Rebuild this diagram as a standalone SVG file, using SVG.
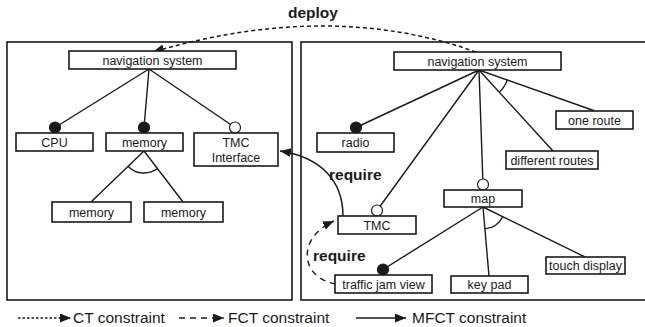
<svg xmlns="http://www.w3.org/2000/svg" width="645" height="327" viewBox="0 0 645 327">
  <style>
    .frame { fill: none; stroke: #1a1a1a; stroke-width: 1.6; }
    .box { fill: #fff; stroke: #1a1a1a; stroke-width: 1.6; }
    .lbl { font-family: "Liberation Sans", Arial, sans-serif; font-size: 12.5px; fill: #1a1a1a; text-anchor: middle; }
    .bold { font-family: "Liberation Sans", Arial, sans-serif; font-size: 15.5px; font-weight: bold; fill: #1a1a1a; }
    .legend { font-family: "Liberation Sans", Arial, sans-serif; font-size: 15.5px; fill: #1a1a1a; }
    .edge { fill: none; stroke: #1a1a1a; stroke-width: 1.4; }
    .mand { fill: #1a1a1a; stroke: #1a1a1a; stroke-width: 1.2; }
    .opt { fill: #fff; stroke: #1a1a1a; stroke-width: 1.2; }
    .ct { fill: none; stroke: #1a1a1a; stroke-width: 1.5; stroke-dasharray: 4 3; }
    .fct { fill: none; stroke: #1a1a1a; stroke-width: 1.4; stroke-dasharray: 6 5; }
    .mfct { fill: none; stroke: #1a1a1a; stroke-width: 1.5; }
  </style>
  <defs>
    <marker id="head" markerUnits="userSpaceOnUse" markerWidth="12" markerHeight="10" refX="11" refY="4.5" orient="auto">
      <path d="M0,0 L11,4.5 L0,9 Z" fill="#1a1a1a"/>
    </marker>
  </defs>

  <!-- platform frames -->
  <rect class="frame" x="7" y="42" width="285" height="258"/>
  <rect class="frame" x="301" y="42" width="346" height="258"/>

  <g id="connectors">
    <!-- left tree -->
    <line class="edge" x1="149" y1="69" x2="55" y2="127.5"/>
    <line class="edge" x1="149" y1="69" x2="144" y2="127.5"/>
    <line class="edge" x1="149" y1="69" x2="235" y2="127.5"/>
    <line class="edge" x1="144" y1="151" x2="91" y2="202"/>
    <line class="edge" x1="144" y1="151" x2="183" y2="202"/>
    <path class="edge" d="M128.3,166.4 A22,22 0 0 0 157.6,168.3"/>
    <circle class="mand" cx="55" cy="127.5" r="5.5"/>
    <circle class="mand" cx="144" cy="127.5" r="5.5"/>
    <circle class="opt" cx="235" cy="127.5" r="5.5"/>

    <!-- right tree -->
    <line class="edge" x1="479" y1="70" x2="356" y2="127.5"/>
    <line class="edge" x1="479" y1="70" x2="377" y2="210.5"/>
    <line class="edge" x1="479" y1="70" x2="483" y2="184.5"/>
    <line class="edge" x1="479" y1="70" x2="553" y2="151"/>
    <line class="edge" x1="479" y1="70" x2="595" y2="111"/>
    <path class="edge" d="M499.4,92 A30,30 0 0 0 507.4,79.6"/>
    <circle class="mand" cx="356" cy="127.5" r="5.5"/>
    <circle class="opt" cx="377" cy="210.5" r="5.5"/>
    <circle class="opt" cx="483" cy="184.5" r="5.5"/>

    <line class="edge" x1="483" y1="207" x2="383" y2="269.5"/>
    <line class="edge" x1="483" y1="207" x2="489" y2="276"/>
    <line class="edge" x1="483" y1="207" x2="585" y2="257"/>
    <path class="edge" d="M484.9,228.9 A22,22 0 0 0 502.8,216.5"/>
    <circle class="mand" cx="383" cy="269.5" r="5.5"/>

    <!-- cross-tree constraints -->
    <path class="ct" d="M476,52 Q330,0 153,52" marker-end="url(#head)"/>
    <path class="mfct" d="M343,216 C343,180 320,157 280,151" marker-end="url(#head)"/>
    <path class="fct" d="M336,284 C300,278 296,238 334,221" marker-end="url(#head)"/>
  </g>

  <text class="bold" x="288" y="18">deploy</text>
  <text class="bold" x="329" y="180">require</text>
  <text class="bold" x="313" y="261">require</text>

  <!-- left tree nodes -->
  <g id="nav-left">
    <rect class="box" x="69" y="51" width="167" height="18"/>
    <text class="lbl" x="152.5" y="64.5">navigation system</text>
  </g>
  <g id="cpu">
    <rect class="box" x="16" y="133" width="77" height="18"/>
    <text class="lbl" x="54.5" y="146.5">CPU</text>
  </g>
  <g id="memory">
    <rect class="box" x="106" y="133" width="77" height="18"/>
    <text class="lbl" x="144.5" y="146.5">memory</text>
  </g>
  <g id="tmc-interface">
    <rect class="box" x="194" y="133" width="84" height="33"/>
    <text class="lbl" x="236" y="147">TMC</text>
    <text class="lbl" x="236" y="162">Interface</text>
  </g>
  <g id="memory-a">
    <rect class="box" x="52" y="202" width="79" height="20"/>
    <text class="lbl" x="91.5" y="216.5">memory</text>
  </g>
  <g id="memory-b">
    <rect class="box" x="144" y="202" width="79" height="20"/>
    <text class="lbl" x="183.5" y="216.5">memory</text>
  </g>

  <!-- right tree nodes -->
  <g id="nav-right">
    <rect class="box" x="394" y="52" width="167" height="18"/>
    <text class="lbl" x="477.5" y="65.5">navigation system</text>
  </g>
  <g id="radio">
    <rect class="box" x="317" y="133" width="77" height="19"/>
    <text class="lbl" x="355.5" y="147">radio</text>
  </g>
  <g id="one-route">
    <rect class="box" x="556" y="111" width="77" height="18"/>
    <text class="lbl" x="594.5" y="124.5">one route</text>
  </g>
  <g id="different-routes">
    <rect class="box" x="506" y="151" width="92" height="18"/>
    <text class="lbl" x="552" y="164.5">different routes</text>
  </g>
  <g id="tmc">
    <rect class="box" x="338" y="216" width="78" height="18"/>
    <text class="lbl" x="377" y="229.5">TMC</text>
  </g>
  <g id="map">
    <rect class="box" x="444" y="190" width="78" height="17"/>
    <text class="lbl" x="483" y="203">map</text>
  </g>
  <g id="traffic-jam-view">
    <rect class="box" x="335" y="275" width="97" height="18"/>
    <text class="lbl" x="383.5" y="288.5">traffic jam view</text>
  </g>
  <g id="key-pad">
    <rect class="box" x="451" y="276" width="77" height="17"/>
    <text class="lbl" x="489.5" y="289">key pad</text>
  </g>
  <g id="touch-display">
    <rect class="box" x="546" y="257" width="79" height="17"/>
    <text class="lbl" x="585.5" y="270">touch display</text>
  </g>

  <!-- legend -->
  <g id="legend">
    <line x1="18" y1="318" x2="71" y2="318" stroke="#1a1a1a" stroke-width="1.3" stroke-dasharray="2.5 2" marker-end="url(#head)"/>
    <text class="legend" x="73" y="323">CT constraint</text>
    <line x1="179" y1="318" x2="224" y2="318" stroke="#1a1a1a" stroke-width="1.3" stroke-dasharray="6 5" marker-end="url(#head)"/>
    <text class="legend" x="228" y="323">FCT constraint</text>
    <line x1="356" y1="318" x2="406" y2="318" stroke="#1a1a1a" stroke-width="1.3" marker-end="url(#head)"/>
    <text class="legend" x="412" y="323">MFCT constraint</text>
  </g>
</svg>
